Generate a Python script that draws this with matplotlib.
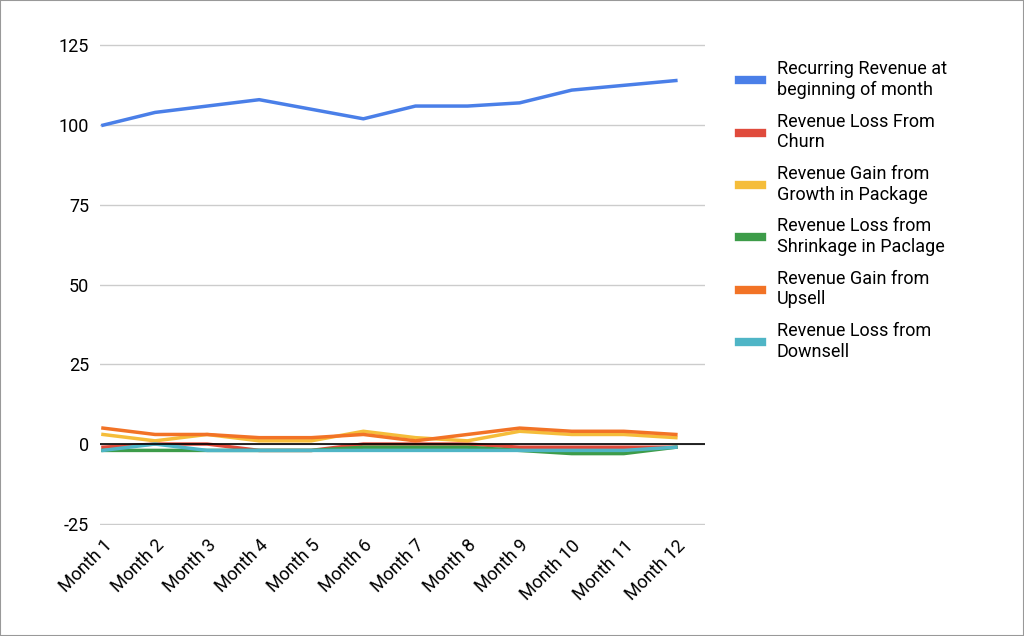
import matplotlib.pyplot as plt

plt.rcParams['font.family'] = ['Roboto', 'DejaVu Sans']
plt.rcParams['axes.unicode_minus'] = False

months = ['Month %d' % i for i in range(1, 13)]
recurring = [100, 104, 106, 108, 105, 102, 106, 106, 107, 111, 112.5, 114]
churn = [-1, 0, 0, -2, -2, 0, 0, 0, -1, -1, -1, -1]
growth = [3, 1, 3, 1, 1, 4, 2, 1, 4, 3, 3, 2]
shrinkage = [-2, -2, -2, -2, -2, -1, -1, -1, -2, -3, -3, -1]
upsell = [5, 3, 3, 2, 2, 3, 1, 3, 5, 4, 4, 3]
downsell = [-2, 0, -2, -2, -2, -2, -2, -2, -2, -2, -2, -1]

series = [
    ('Recurring Revenue at\nbeginning of month', recurring, '#4a7fe8'),
    ('Revenue Loss From\nChurn', churn, '#e04b3c'),
    ('Revenue Gain from\nGrowth in Package', growth, '#f5bd3a'),
    ('Revenue Loss from\nShrinkage in Paclage', shrinkage, '#3d9c49'),
    ('Revenue Gain from\nUpsell', upsell, '#f27326'),
    ('Revenue Loss from\nDownsell', downsell, '#4fb5c6'),
]

fig = plt.figure(figsize=(10.24, 6.36), dpi=100)
ax = fig.add_axes([0.098, 0.174, 0.59, 0.757])
for label, vals, c in series:
    ax.plot(months, vals, color=c, lw=2.5, label=label)

ax.set_ylim(-25.5, 125.5)
ax.set_yticks([-25, 0, 25, 50, 75, 100, 125])
ax.set_xlim(-0.05, 11.55)
ax.grid(axis='y', color='#cccccc', lw=1)
ax.axhline(0, color='black', lw=1.2)
for s in ax.spines.values():
    s.set_visible(False)
ax.tick_params(length=0, labelsize=13, pad=8)
plt.setp(ax.get_xticklabels(), rotation=45, ha='right', rotation_mode='anchor')

leg = ax.legend(loc='upper left', bbox_to_anchor=(1.03, 1.0), frameon=False,
                fontsize=13, handlelength=1.3, labelspacing=0.75)
for h in leg.get_lines():
    h.set_linewidth(6)

fig.patches.append(plt.Rectangle((0, 0), 1, 1, transform=fig.transFigure,
                                 fill=False, edgecolor='#999999', lw=1.5))
fig.savefig('out.png')
